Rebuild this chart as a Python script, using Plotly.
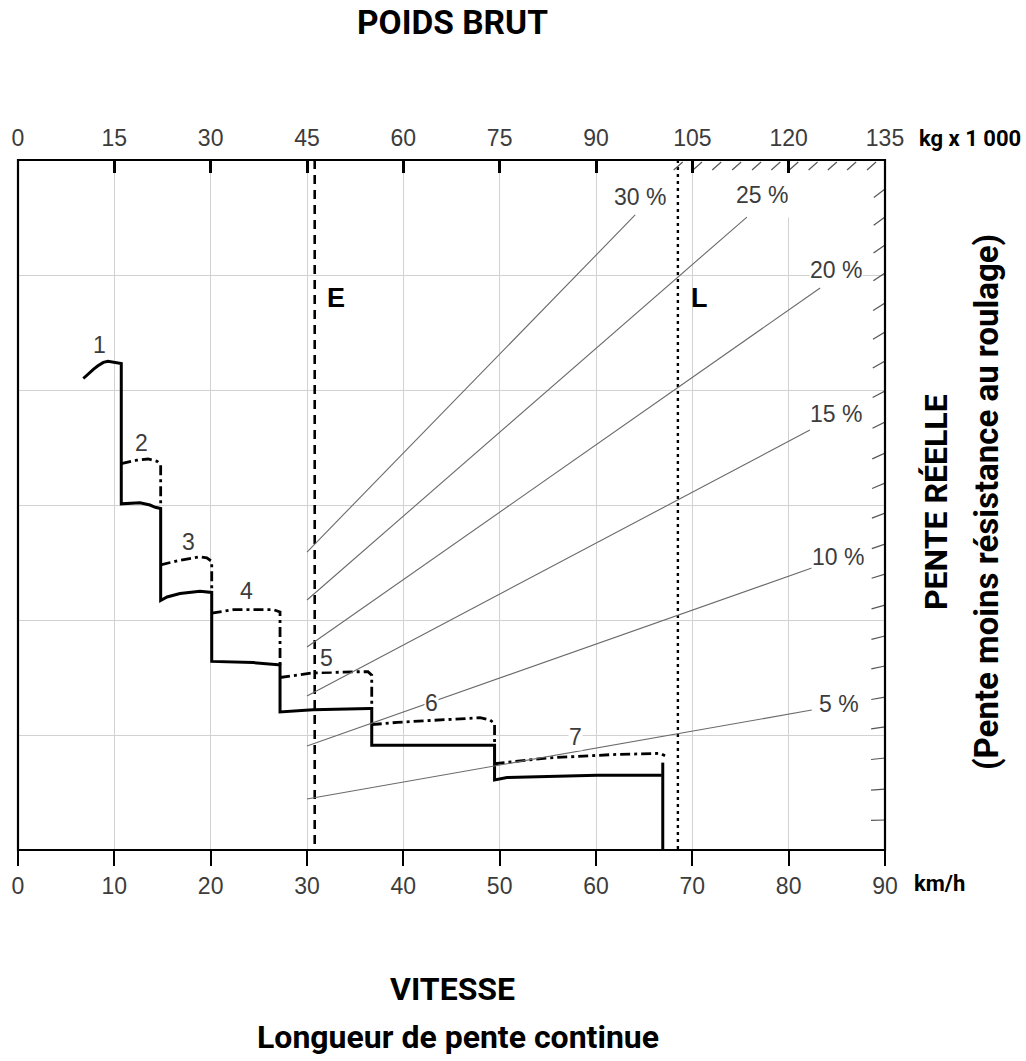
import plotly.graph_objects as go
import numpy as np

# ---------------- data ----------------
speed_ticks = [0, 10, 20, 30, 40, 50, 60, 70, 80, 90]          # km/h (bottom)
weight_ticks = [0, 15, 30, 45, 60, 75, 90, 105, 120, 135]      # kg x 1 000 (top)
y_grid = [1, 2, 3, 4, 5]                                        # unlabeled rimpull grid

# solid curve (gears 1..7), speed km/h vs relative rimpull
solid_x = [6.78, 7.27, 7.82, 8.30, 8.86, 9.34, 9.89, 10.72,
           10.72, 12.66, 13.70, 14.25, 14.81,
           14.81, 15.47, 16.82, 18.89, 20.11,
           20.11, 24.40, 26.99, 27.20,
           27.20, 30.62, 36.54, 36.72,
           36.72, 47.96, 49.31, 49.47,
           49.47, 50.76, 60.10, 66.82]
solid_y = [4.10, 4.14, 4.18, 4.21, 4.24, 4.25, 4.24, 4.23,
           3.01, 3.02, 3.00, 2.98, 2.97,
           2.17, 2.20, 2.23, 2.25, 2.24,
           1.64, 1.63, 1.61, 1.61,
           1.20, 1.22, 1.23, 1.23,
           0.91, 0.91, 0.91, 0.91,
           0.61, 0.63, 0.65, 0.65]
solid_end_x = [66.93, 66.93]
solid_end_y = [0.76, 0.0]

# dash-dot curve (gears 2..7)
dd_x = [10.72, 12.32, 13.50, 14.43, 14.81, 14.81, None,
        14.81, 16.82, 18.89, 19.60, 20.11, 20.11, None,
        20.11, 22.36, 26.50, 27.20, 27.20, None,
        27.20, 30.62, 35.19, 36.33, 36.72, 36.72, None,
        36.72, 39.34, 47.96, 49.00, 49.47, 49.47, None,
        49.47, 54.92, 61.77, 66.65, 67.17]
dd_y = [3.36, 3.39, 3.40, 3.38, 3.35, 2.98, None,
        2.48, 2.52, 2.55, 2.54, 2.51, 2.26, None,
        2.06, 2.09, 2.09, 2.07, 1.61, None,
        1.50, 1.54, 1.55, 1.55, 1.52, 1.23, None,
        1.09, 1.11, 1.15, 1.13, 1.10, 0.91, None,
        0.75, 0.80, 0.83, 0.84, 0.82]

gear_labels = ["1", "2", "3", "4", "5", "6", "7"]
gear_label_x = [8.51, 12.84, 17.75, 23.67, 32.05, 42.95, 57.82]
gear_label_y = [4.39, 3.54, 2.68, 2.25, 1.67, 1.28, 0.985]

# grade lines (top weight axis vs rimpull)
grades = ["5 %", "10 %", "15 %", "20 %", "25 %", "30 %"]
grade_w_start = [45, 45, 45, 45, 45, 45]
grade_y_start = [0.443, 0.904, 1.339, 1.765, 2.174, 2.591]
grade_w_end = [123.6, 123.6, 123.3, 124.9, 113.5, 96.1]
grade_y_end = [1.217, 2.452, 3.652, 4.887, 5.504, 5.522]
grade_label_w = [127.8, 127.7, 127.4, 127.4, 115.9, 96.9]
grade_label_y = [1.27, 2.548, 3.791, 5.043, 5.70, 5.678]

# border marks: value on the right edge (w = 135) of each 1 % grade ray
border_mark_y = [0.261, 0.530, 0.800, 1.070, 1.330, 1.600, 1.861, 2.130, 2.400, 2.661, 2.930,
                 3.191, 3.452, 3.722, 3.991, 4.252, 4.504, 4.757, 5.017, 5.261, 5.504, 5.748]
# hatch along the top edge (weights where the marks touch the top)
hatch_w = [103.5, 106.5, 109.5, 112.6, 115.7, 118.7, 121.5, 124.5, 127.5, 130.5, 133.6]

E_speed = 30.8
L_speed = 68.5

X_MAX, W_MAX, Y_MAX = 90, 135, 6

# ---------------- layout constants ----------------
W, H = 1026, 1061
ML, MR, MT, MB = 18, 141, 160, 211
PW, PH = W - ML - MR, H - MT - MB
px_per_w = PW / W_MAX
px_per_y = PH / Y_MAX

TICK_FONT = "Liberation Sans, Arial, Helvetica, sans-serif"
COND_FONT = "Roboto, Liberation Sans, sans-serif"
GREY_TXT = "#3c3c3c"

fig = go.Figure()

# white mask: gridline gap above the "25 %" label (as in the reference)
fig.add_trace(go.Scatter(x=[120, 120], y=[5.50, Y_MAX], xaxis="x2", yaxis="y", mode="lines",
                         line=dict(color="white", width=3), hoverinfo="skip",
                         showlegend=False))

# grade lines
gx, gy = [], []
for ws, ys, we, ye in zip(grade_w_start, grade_y_start, grade_w_end, grade_y_end):
    gx += [ws, we, None]
    gy += [ys, ye, None]
fig.add_trace(go.Scatter(x=gx, y=gy, xaxis="x2", yaxis="y", mode="lines",
                         line=dict(color="#6a6a6a", width=1.1), hoverinfo="skip",
                         showlegend=False))

# right border marks (short pieces of the grade rays ending at the border)
bx, by = [], []
for ye in border_mark_y:
    k = ye / W_MAX
    slope_px = k * px_per_y / px_per_w
    dx_px = 14 / np.sqrt(1 + slope_px ** 2)
    w0 = W_MAX - dx_px / px_per_w
    bx += [w0, W_MAX, None]
    by += [k * w0, ye, None]
# top hatch
for w in hatch_w:
    bx += [w, w - 9 / px_per_w, None]
    by += [Y_MAX - 2 / px_per_y, Y_MAX - 10 / px_per_y, None]
fig.add_trace(go.Scatter(x=bx, y=by, xaxis="x2", yaxis="y", mode="lines",
                         line=dict(color="#555555", width=1.2), hoverinfo="skip",
                         showlegend=False))

# E and L lines
fig.add_trace(go.Scatter(x=[E_speed, E_speed], y=[Y_MAX, 0], mode="lines",
                         line=dict(color="black", width=2.6, dash="9px,6px"),
                         hoverinfo="skip", showlegend=False))
fig.add_trace(go.Scatter(x=[L_speed, L_speed], y=[Y_MAX, 0], mode="lines",
                         line=dict(color="black", width=2.4, dash="3px,4px"),
                         hoverinfo="skip", showlegend=False))

# dash-dot curve
fig.add_trace(go.Scatter(x=dd_x, y=dd_y, mode="lines", connectgaps=False,
                         line=dict(color="black", width=2.8, dash="10px,4px,3px,4px"),
                         hoverinfo="skip", showlegend=False))
# solid curve
fig.add_trace(go.Scatter(x=solid_x, y=solid_y, mode="lines",
                         line=dict(color="black", width=3),
                         hoverinfo="skip", showlegend=False))
fig.add_trace(go.Scatter(x=solid_end_x, y=solid_end_y, mode="lines",
                         line=dict(color="black", width=3),
                         hoverinfo="skip", showlegend=False))

annotations = []
for t, x, y in zip(gear_labels, gear_label_x, gear_label_y):
    annotations.append(dict(x=x, y=y, xref="x", yref="y", text=t, showarrow=False,
                            font=dict(family=TICK_FONT, size=23, color=GREY_TXT),
                            bgcolor="white", borderpad=0))
for t, x, y in zip(grades, grade_label_w, grade_label_y):
    annotations.append(dict(x=x, y=y, xref="x2", yref="y", text=t, showarrow=False,
                            font=dict(family=TICK_FONT, size=23, color=GREY_TXT),
                            bgcolor="white", borderpad=0))
annotations.append(dict(x=33.0, y=4.8, xref="x", yref="y", text="<b>E</b>", showarrow=False,
                        font=dict(family=TICK_FONT, size=27, color="black")))
annotations.append(dict(x=70.7, y=4.8, xref="x", yref="y", text="<b>L</b>", showarrow=False,
                        font=dict(family=TICK_FONT, size=27, color="black")))


def px_x(p):
    return (p - ML) / PW


def px_y(p):
    return (MT + PH - p) / PH


titles = [
    dict(x=px_x(452), y=px_y(22.5), text="<b>POIDS BRUT</b>", size=33.5),
    dict(x=px_x(452), y=px_y(989), text="<b>VITESSE</b>", size=32),
    dict(x=px_x(458), y=px_y(1037), text="<b>Longueur de pente continue</b>", size=32),
    dict(x=px_x(936), y=px_y(502), text="<b>PENTE RÉELLE</b>", textangle=-90, size=32),
    dict(x=px_x(986), y=px_y(502), text="<b>(Pente moins résistance au roulage)</b>",
         textangle=-90, size=33),
]
for a in titles:
    s = a.pop("size")
    a.update(xref="paper", yref="paper", showarrow=False, xanchor="center", yanchor="middle",
             font=dict(family=COND_FONT, size=s, color="black"))
    annotations.append(a)

for a in [dict(x=px_x(917), y=px_y(138), text="<b>kg x 1 000</b>"),
          dict(x=px_x(912), y=px_y(883), text="<b>km/h</b>")]:
    a.update(xref="paper", yref="paper", showarrow=False, xanchor="left", yanchor="middle",
             font=dict(family=COND_FONT, size=22, color="black"))
    annotations.append(a)

fig.update_layout(
    width=W, height=H, autosize=False,
    margin=dict(l=ML, r=MR, t=MT, b=MB, pad=0),
    paper_bgcolor="white", plot_bgcolor="white",
    showlegend=False,
    xaxis=dict(range=[0, X_MAX], tickvals=speed_ticks, ticktext=[str(v) for v in speed_ticks],
               ticks="outside", ticklen=15, tickwidth=2, tickcolor="black",
               showgrid=True, gridcolor="#d2d2d2", gridwidth=1.3, zeroline=False,
               showline=False, tickfont=dict(family=TICK_FONT, size=23, color=GREY_TXT),
               ticklabelstandoff=0, fixedrange=True),
    xaxis2=dict(range=[0, W_MAX], tickvals=weight_ticks, ticktext=[str(v) for v in weight_ticks],
                overlaying="x", side="top", anchor="y",
                ticks="inside", ticklen=13, tickwidth=2.5, tickcolor="black",
                showgrid=False, zeroline=False, showline=False,
                tickfont=dict(family=TICK_FONT, size=23, color=GREY_TXT),
                ticklabelstandoff=8, fixedrange=True),
    yaxis=dict(range=[0, Y_MAX], tickvals=y_grid, showticklabels=False, ticks="",
               showgrid=True, gridcolor="#d2d2d2", gridwidth=1.3, zeroline=False,
               showline=False, fixedrange=True),
    shapes=[
        dict(type="rect", xref="paper", yref="paper", x0=0, y0=0, x1=1, y1=1,
             line=dict(color="black", width=2.2), layer="above"),
    ],
    annotations=annotations,
)

fig.write_html("out.html")
